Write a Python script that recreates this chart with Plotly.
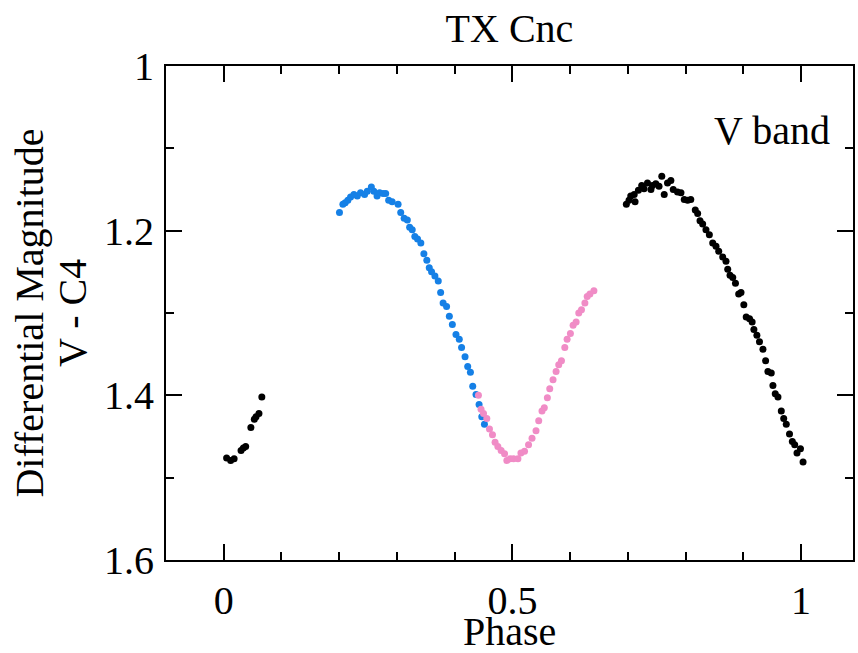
import plotly.graph_objects as go

# ---- data ----
black1_phase = [0.005, 0.012, 0.018, 0.030, 0.034, 0.038, 0.047, 0.053, 0.056, 0.061, 0.066]
black1_mag = [1.476, 1.479, 1.477, 1.467, 1.464, 1.462, 1.439, 1.429, 1.426, 1.422, 1.402]

blue_phase = [0.2005, 0.2064, 0.2104, 0.215, 0.2197, 0.2255, 0.2313, 0.237, 0.244, 0.2487,
              0.2557, 0.260, 0.2656, 0.270, 0.276, 0.2805, 0.2857, 0.2917, 0.302, 0.3066,
              0.3125, 0.318, 0.322, 0.3265, 0.331, 0.3357, 0.3414, 0.3467, 0.3518, 0.356,
              0.360, 0.3658, 0.3716, 0.3757, 0.380, 0.386, 0.3908, 0.396, 0.4023, 0.408,
              0.412, 0.418, 0.4226, 0.4273, 0.4313, 0.437, 0.4423, 0.447, 0.4516]
blue_mag = [1.178, 1.168, 1.166, 1.163, 1.159, 1.156, 1.158, 1.154, 1.156, 1.152,
            1.147, 1.152, 1.158, 1.154, 1.155, 1.155, 1.163, 1.165, 1.168, 1.178,
            1.185, 1.187, 1.196, 1.199, 1.207, 1.210, 1.215, 1.228, 1.236, 1.245,
            1.250, 1.255, 1.261, 1.275, 1.288, 1.292, 1.304, 1.314, 1.326, 1.332,
            1.342, 1.353, 1.365, 1.372, 1.389, 1.399, 1.411, 1.426, 1.435]

pink_phase = [0.4412, 0.4457, 0.450, 0.4557, 0.4603, 0.4655, 0.470, 0.4748, 0.4805, 0.4864,
              0.4904, 0.4962, 0.502, 0.5096, 0.5148, 0.521, 0.528, 0.534, 0.5409, 0.5456,
              0.5513, 0.5553, 0.5606, 0.5647, 0.5704, 0.5757, 0.5803, 0.585, 0.5908, 0.5948,
              0.6005, 0.6052, 0.6104, 0.615, 0.6197, 0.6256, 0.6296, 0.6343, 0.6412]
pink_mag = [1.400, 1.417, 1.422, 1.428, 1.441, 1.448, 1.457, 1.462, 1.467, 1.471,
            1.479, 1.477, 1.477, 1.477, 1.470, 1.468, 1.460, 1.452, 1.443, 1.431,
            1.419, 1.415, 1.403, 1.392, 1.381, 1.371, 1.363, 1.358, 1.342, 1.332,
            1.325, 1.315, 1.311, 1.300, 1.296, 1.288, 1.280, 1.277, 1.273]

black2_phase = [0.6974, 0.702, 0.705, 0.7125, 0.711, 0.7183, 0.724, 0.728, 0.734, 0.740,
                0.7426, 0.7484, 0.754, 0.7588, 0.763, 0.7687, 0.7745, 0.7786, 0.786, 0.792,
                0.7977, 0.8035, 0.809, 0.8168, 0.8209, 0.825, 0.8296, 0.8353, 0.8412, 0.847,
                0.8527, 0.8574, 0.8643, 0.870, 0.873, 0.877, 0.8817, 0.8864, 0.892, 0.896,
                0.9009, 0.905, 0.9108, 0.9153, 0.9183, 0.9235, 0.928, 0.934, 0.9386, 0.9426,
                0.9484, 0.9513, 0.9553, 0.960, 0.9658, 0.970, 0.9744, 0.980, 0.9849, 0.989,
                0.993, 0.999, 1.0035]
black2_mag = [1.168, 1.163, 1.158, 1.165, 1.156, 1.151, 1.145, 1.149, 1.142, 1.150,
              1.145, 1.143, 1.146, 1.134, 1.156, 1.142, 1.139, 1.150, 1.153, 1.154,
              1.162, 1.163, 1.162, 1.175, 1.179, 1.188, 1.192, 1.199, 1.205, 1.215,
              1.219, 1.225, 1.232, 1.237, 1.247, 1.254, 1.257, 1.264, 1.277, 1.275,
              1.290, 1.305, 1.307, 1.311, 1.320, 1.327, 1.335, 1.344, 1.358, 1.371,
              1.373, 1.388, 1.398, 1.402, 1.419, 1.428, 1.435, 1.447, 1.456, 1.460,
              1.470, 1.465, 1.481]

x_tickvals = [0, 0.5, 1]
x_ticktext = ["0", "0.5", "1"]
y_tickvals = [1.0, 1.2, 1.4, 1.6]
y_ticktext = ["1", "1.2", "1.4", "1.6"]

FONT = "Liberation Serif, Times New Roman, serif"
BLUE = "#1580e6"
PINK = "#f08cc6"
FS = 40
txt_font = dict(family=FONT, size=FS, color="black")

fig = go.Figure()
marker_size = 7
fig.add_trace(go.Scatter(x=blue_phase, y=blue_mag, mode="markers",
                         marker=dict(color=BLUE, size=marker_size), showlegend=False))
fig.add_trace(go.Scatter(x=pink_phase, y=pink_mag, mode="markers",
                         marker=dict(color=PINK, size=marker_size), showlegend=False))
fig.add_trace(go.Scatter(x=black1_phase, y=black1_mag, mode="markers",
                         marker=dict(color="black", size=marker_size), showlegend=False))
fig.add_trace(go.Scatter(x=black2_phase, y=black2_mag, mode="markers",
                         marker=dict(color="black", size=marker_size), showlegend=False))

axis_common = dict(
    showgrid=False, zeroline=False, showline=True, linecolor="black", linewidth=2,
    mirror="ticks", ticks="inside", ticklen=16, tickwidth=2, tickcolor="black",
    automargin=False, tickfont=txt_font,
)

fig.update_xaxes(
    range=[-0.1, 1.09], tickmode="array", tickvals=x_tickvals, ticktext=x_ticktext,
    minor=dict(dtick=0.1, tick0=0, ticks="inside", ticklen=8, tickwidth=2, tickcolor="black"),
    ticklabelstandoff=4,
    **axis_common,
)
fig.update_yaxes(
    range=[1.6, 1.0], tickmode="array", tickvals=y_tickvals, ticktext=y_ticktext,
    minor=dict(dtick=0.1, tick0=1.0, ticks="inside", ticklen=8, tickwidth=2, tickcolor="black"),
    ticklabelstandoff=2,
    **axis_common,
)

fig.add_annotation(text="Phase", xref="paper", yref="paper", x=0.5, y=-0.145,
                   xanchor="center", yanchor="middle", showarrow=False, font=txt_font)
fig.add_annotation(text="Differential Magnitude", xref="paper", yref="paper",
                   x=-0.200, y=0.5, xanchor="center", yanchor="middle",
                   textangle=-90, showarrow=False, font=txt_font)
fig.add_annotation(text="V - C4", xref="paper", yref="paper",
                   x=-0.1368, y=0.5, xanchor="center", yanchor="middle",
                   textangle=-90, showarrow=False, font=txt_font)
fig.add_annotation(text="V band", xref="paper", yref="paper", x=0.969, y=0.87,
                   xanchor="right", yanchor="middle", showarrow=False, font=txt_font)

fig.update_layout(
    width=858, height=653,
    margin=dict(l=166, r=5, t=66, b=93),
    paper_bgcolor="white", plot_bgcolor="white",
    title=dict(text="TX Cnc", x=0.5, xref="paper", y=0.957, yanchor="middle",
               font=txt_font),
)

post = (
    "document.body.style.margin='0';"
    "if (document.fonts && document.fonts.ready) {"
    "  document.fonts.ready.then(function(){ Plotly.redraw('{plot_id}'); });"
    "}"
)
fig.write_html("out.html", config={"displayModeBar": False}, post_script=post)
